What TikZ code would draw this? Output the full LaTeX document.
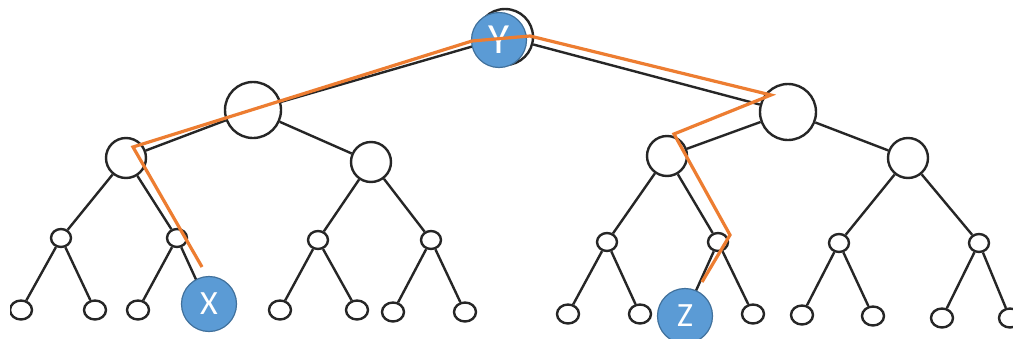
\documentclass[tikz,border=0pt]{standalone}
\usepackage{fontspec}
\setmainfont{Carlito}
\usetikzlibrary{shapes.geometric}
\definecolor{edgegray}{HTML}{262626}
\definecolor{pathorange}{HTML}{ED7D31}
\definecolor{markblue}{HTML}{5B9BD5}
\definecolor{markborder}{HTML}{41719C}
\begin{document}
\begin{tikzpicture}[x=1pt,y=-1pt,
  big/.style={draw=edgegray,line width=2.4pt,circle,minimum size=56pt,inner sep=0pt},
  mid/.style={draw=edgegray,line width=2.4pt,circle,minimum size=40pt,inner sep=0pt},
  sml/.style={draw=edgegray,line width=2.4pt,ellipse,minimum width=20pt,minimum height=18pt,inner sep=0pt},
  leaf/.style={draw=edgegray,line width=2.4pt,ellipse,minimum width=22pt,minimum height=19pt,inner sep=0pt},
  tedge/.style={draw=edgegray,line width=2.4pt},
  marker/.style={circle,fill=markblue,draw=markborder,line width=1.2pt,minimum size=55pt,inner sep=0pt,text=white},
  route/.style={draw=pathorange,line width=3.2pt,line join=miter}]
\useasboundingbox (0,0) rectangle (1013,338);
\fill[white] (0,0) rectangle (1013,338);
\begin{scope}
\clip (10,0) rectangle (1013,330);
% root and level 1
\node[big] (r) at (505,37) {};
\node[big] (a) at (253,110) {};
\node[big] (b) at (788,112) {};
% level 2
\node[mid] (aa) at (126,158) {};
\node[mid] (ab) at (371,162) {};
\node[mid] (ba) at (667,156) {};
\node[mid] (bb) at (908,158) {};
% level 3
\node[sml] (c1) at (61,238) {};
\node[sml] (c2) at (177,238) {};
\node[sml] (c3) at (318,240) {};
\node[sml] (c4) at (431,240) {};
\node[sml] (c5) at (607,242) {};
\node[sml] (c6) at (718,242) {};
\node[sml] (c7) at (839,243) {};
\node[sml] (c8) at (979,243) {};
% level 4
\node[leaf] (d1) at (21,310) {};
\node[leaf] (d2) at (95,310) {};
\node[leaf] (d3) at (138,310) {};
\node[leaf] (d4) at (210,310) {};
\node[leaf] (d5) at (280,310) {};
\node[leaf] (d6) at (357,310) {};
\node[leaf] (d7) at (393,312) {};
\node[leaf] (d8) at (465,312) {};
\node[leaf] (d9) at (568,314) {};
\node[leaf] (d10) at (640,314) {};
\node[leaf] (d11) at (685,315) {};
\node[leaf] (d12) at (753,314) {};
\node[leaf] (d13) at (802,315) {};
\node[leaf] (d14) at (873,316) {};
\node[leaf] (d15) at (942,318) {};
\node[leaf] (d16) at (1010,318) {};
% edges
\path[tedge] (r) -- (a) (r) -- (b)
  (a) -- (aa) (a) -- (ab) (b) -- (ba) (b) -- (bb)
  (aa) -- (c1) (aa) -- (c2) (ab) -- (c3) (ab) -- (c4)
  (ba) -- (c5) (ba) -- (c6) (bb) -- (c7) (bb) -- (c8)
  (c1) -- (d1) (c1) -- (d2) (c2) -- (d3) (c2) -- (d4)
  (c3) -- (d5) (c3) -- (d6) (c4) -- (d7) (c4) -- (d8)
  (c5) -- (d9) (c5) -- (d10) (c6) -- (d11) (c6) -- (d12)
  (c7) -- (d13) (c7) -- (d14) (c8) -- (d15) (c8) -- (d16);
\end{scope}
% markers
\node[marker,font=\fontsize{43}{43}\selectfont] (Y) at (499,40) {Y};
\node[marker,font=\fontsize{34}{34}\selectfont] (X) at (209,304) {X};
\node[marker,font=\fontsize{34}{34}\selectfont] (Z) at (685,316) {Z};
% route
\coordinate (p1) at (202,267);
\coordinate (p2) at (133,147);
\coordinate (p3) at (472,41);
\coordinate (p4) at (530,36);
\coordinate (p5) at (771,95);
\coordinate (p6) at (674,134);
\coordinate (p7) at (730,235);
\coordinate (p8) at (702,282);
\path[route] (p1) -- (p2) -- (p3) -- (p4) -- (p5) -- (p6) -- (p7) -- (p8);
\end{tikzpicture}
\end{document}
